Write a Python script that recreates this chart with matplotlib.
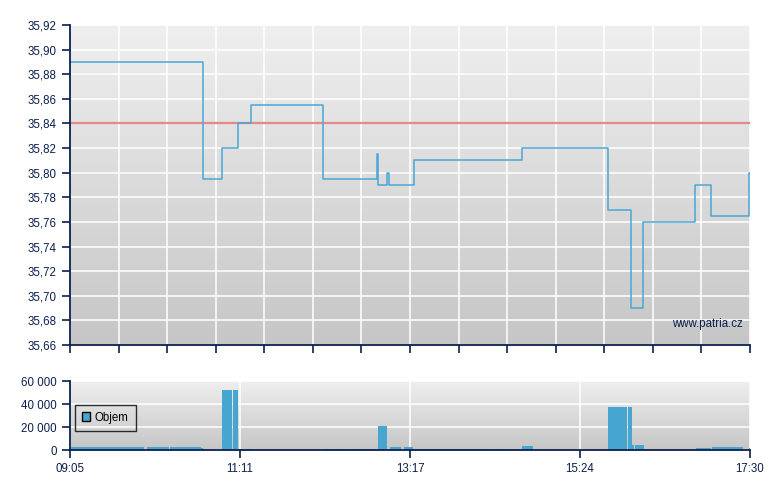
import numpy as np
import matplotlib
matplotlib.use("Agg")
import matplotlib.pyplot as plt
from matplotlib.patches import Patch
from matplotlib.colors import LinearSegmentedColormap

# ---- data (time in minutes after 09:05) ----
price_t = [0, 98.8, 112.6, 124.5, 134.6, 188.1, 228.0, 228.8, 235.6, 236.9,
           255.2, 335.9, 399.3, 416.6, 425.9, 464.5, 476.0, 504.6, 505]
price_v = [35.89, 35.795, 35.82, 35.84, 35.855, 35.795, 35.815, 35.79, 35.80, 35.79,
           35.81, 35.82, 35.77, 35.69, 35.76, 35.79, 35.765, 35.80, 35.80]
prev_close = 35.84

vol_start = [0.5, 57.2, 74.3, 97.3, 98.8, 112.9, 121.0, 124.8, 188.6, 194.5,
             206.3, 209.0, 228.7, 235.9, 237.6, 248.0, 254.7, 255.5, 312.7, 314.7,
             326.1, 330.3, 332.8, 335.7, 399.5, 414.4, 417.4, 419.6, 464.9, 476.7, 504.3]
vol_end = [55.0, 73.3, 97.3, 98.6, 100.3, 120.3, 124.8, 135.0, 193.8, 205.6,
           208.3, 228.3, 235.4, 237.6, 245.8, 254.7, 255.4, 312.7, 313.8, 325.1,
           329.8, 332.3, 335.0, 343.9, 413.6, 417.4, 418.9, 426.3, 476.0, 499.7, 505.0]
vol_value = [3000, 3000, 3000, 1500, 700, 52000, 52000, 1000, 800, 800,
             800, 800, 21000, 500, 2600, 2600, 1000, 800, 500, 800,
             800, 800, 500, 3500, 37000, 37000, 4300, 4300, 1700, 2600, 1500]

x_labels = ["09:05", "11:11", "13:17", "15:24", "17:30"]
price_ticks = [35.66, 35.68, 35.70, 35.72, 35.74, 35.76, 35.78, 35.80,
               35.82, 35.84, 35.86, 35.88, 35.90, 35.92]
vol_ticks = [0, 20000, 40000, 60000]
t_end = 505

# ---- style ----
navy = "#0b1f4f"
blue = "#46a6d0"
plt.rcParams['font.family'] = ['Liberation Sans', 'DejaVu Sans']
plt.rcParams['font.size'] = 8.3

fig = plt.figure(figsize=(7.8, 4.9), dpi=100)
W, H = 780, 490
ax1 = fig.add_axes([70 / W, (H - 345) / H, 680 / W, 320 / H])
ax2 = fig.add_axes([70 / W, (H - 450) / H, 680 / W, 69 / H])

grad = np.linspace(0, 1, 256).reshape(-1, 1)
cmap = LinearSegmentedColormap.from_list("bg", ["#efefef", "#c6c6c6"])


def style_axes(ax, ylo, yhi):
    ax.imshow(grad, extent=[0, t_end, ylo, yhi], aspect='auto', cmap=cmap,
              zorder=0, origin='upper')
    ax.set_xlim(0, t_end)
    ax.set_ylim(ylo, yhi)
    for s in ['top', 'right']:
        ax.spines[s].set_visible(False)
    for s in ['left', 'bottom']:
        ax.spines[s].set_color(navy)
        ax.spines[s].set_linewidth(1.3)
        ax.spines[s].set_zorder(6)
    ax.tick_params(colors=navy, direction='out', length=6, width=1.2,
                   labelsize=8.3, labelcolor=navy)
    ax.set_axisbelow(True)


style_axes(ax1, 35.66, 35.92)
ax1.set_yticks(price_ticks)
ax1.set_yticklabels([f"{v:.2f}".replace('.', ',') for v in price_ticks])
ax1.set_xticks(np.linspace(0, t_end, 15))
ax1.set_xticklabels([])
ax1.grid(True, color='white', linewidth=1.1)
ax1.axhline(prev_close, color='#dc6464', linewidth=1.6, alpha=0.75, zorder=3)
ax1.plot(price_t, price_v, drawstyle='steps-post', color='#4aa6d6',
         linewidth=1.1, zorder=4)
ax1.text(0.99, 0.065, "www.patria.cz", transform=ax1.transAxes, ha='right',
         va='center', color=navy, fontsize=8.3, zorder=5)

style_axes(ax2, 0, 60000)
ax2.set_yticks(vol_ticks)
ax2.set_yticklabels([f"{v:,}".replace(',', ' ') for v in vol_ticks])
ax2.set_xticks(np.linspace(0, t_end, 5))
ax2.set_xticklabels(x_labels)
ax2.grid(True, color='white', linewidth=1.1)
widths = [e - s for s, e in zip(vol_start, vol_end)]
ax2.bar(vol_start, vol_value, width=widths, align='edge', color=blue,
        edgecolor='none', zorder=3)
leg = ax2.legend(handles=[Patch(facecolor=blue, edgecolor='black', linewidth=1.0,
                                label='Objem')],
                 loc='upper left', bbox_to_anchor=(0.007, 0.655), frameon=True,
                 fancybox=False, facecolor='none', edgecolor='black',
                 handlelength=0.75, handleheight=0.75, handletextpad=0.4,
                 borderpad=0.6, borderaxespad=0, fontsize=8.3)
leg.get_frame().set_linewidth(1.0)
leg.set_zorder(7)
for t in leg.get_texts():
    t.set_color('black')

fig.savefig("out.png", dpi=100)
